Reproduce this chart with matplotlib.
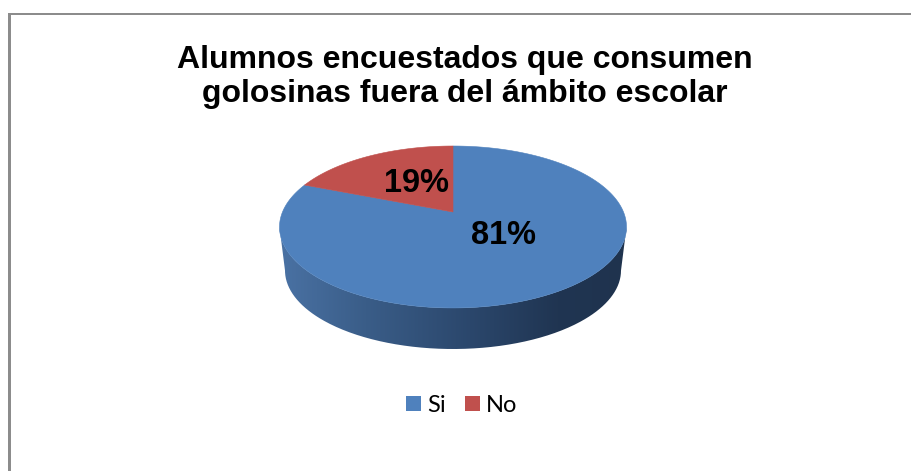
import numpy as np
import matplotlib
matplotlib.use("Agg")
import matplotlib.pyplot as plt
from matplotlib.patches import Polygon, Rectangle, PathPatch
from matplotlib.path import Path

title = "Alumnos encuestados que consumen\ngolosinas fuera del ámbito escolar"
categories = ["Si", "No"]
shares = [81, 19]
colors = ["#4f81bd", "#c0504d"]

W, H = 911, 471
fig = plt.figure(figsize=(W / 100, H / 100), dpi=100)
ax = fig.add_axes([0, 0, 1, 1])
ax.set_xlim(0, W)
ax.set_ylim(H, 0)
ax.axis("off")

# chart frame: only the top and left edges fall inside the canvas
ax.add_patch(Rectangle((8, 13), W - 8, 2.4, fc="#8c8c8c", ec="none"))
ax.add_patch(Rectangle((8, 13), 3, H - 13, fc="#8c8c8c", ec="none"))

ax.text(464.5, 77, title, ha="center", va="center", fontsize=23,
        fontweight="bold", family="Liberation Sans", linespacing=1.145)

# tilted disc: projective map of the unit circle, hub at (CX, CY)
CX, CY = 453, 212
K, A, B = 0.185, 78.2, 170.5


def project(theta):
    u, v = np.cos(theta), np.sin(theta)
    w = 1 + K * v
    return CX + B * u / w, CY - A * v / w


# side wall with a left-to-right shading
RIM_X, RIM_Y = 168, 78.5
BOTTOM_CY = 270.5
t = np.linspace(np.pi, 2 * np.pi, 240)
top_x = CX + 173.5 * np.cos(t)
top_y = 227 - 81 * np.sin(t)
bot_x = CX + RIM_X * np.cos(t)
bot_y = BOTTOM_CY - RIM_Y * np.sin(t)
wall = np.vstack([np.column_stack([top_x, top_y]),
                  np.column_stack([bot_x, bot_y])[::-1]])
wall_patch = PathPatch(Path(np.vstack([wall, wall[0]])), fc="none", ec="none")
ax.add_patch(wall_patch)
stops = np.array([[0x4a, 0x72, 0xa4], [0x3a, 0x5d, 0x88], [0x2b, 0x47, 0x6c],
                  [0x20, 0x35, 0x52], [0x1f, 0x33, 0x4e]]) / 255
pos = np.array([0.0, 0.25, 0.55, 0.8, 1.0])
ramp = np.stack([np.interp(np.linspace(0, 1, 400), pos, stops[:, i]) for i in range(3)], axis=1)
im = ax.imshow(ramp[None, :, :], extent=(279, 627, 350, 220), aspect="auto", zorder=2)
im.set_clip_path(wall_patch)
ax.set_xlim(0, W)
ax.set_ylim(H, 0)

# slices run clockwise from twelve o'clock, the smaller one ending there
start = np.pi / 2
edges = np.cumsum([0] + shares) / sum(shares) * 2 * np.pi
for i, color in enumerate(colors):
    th = np.linspace(start - edges[i], start - edges[i + 1], 300)
    x, y = project(th)
    pts = np.column_stack([np.r_[CX, x], np.r_[CY, y]])
    ax.add_patch(Polygon(pts, closed=True, fc=color, ec=color, lw=0.4, zorder=3))

label_pos = [(503.5, 235), (416, 184)]
for value, (lx, ly) in zip(shares, label_pos):
    ax.text(lx, ly, f"{value}%", ha="center", va="center", fontsize=23.5,
            fontweight="bold", family="Liberation Sans", zorder=4)

handles = [Rectangle((0, 0), 1, 1, fc=c, ec="none") for c in colors]
ax.legend(handles, categories, loc="center", bbox_to_anchor=(461.5 / W, 1 - 405 / H),
          ncol=2, frameon=False, handlelength=0.635, handleheight=0.6,
          handletextpad=0.25, columnspacing=0.81, borderpad=0,
          prop={"family": "Lato", "size": 17})

fig.savefig("out.png", dpi=100)
